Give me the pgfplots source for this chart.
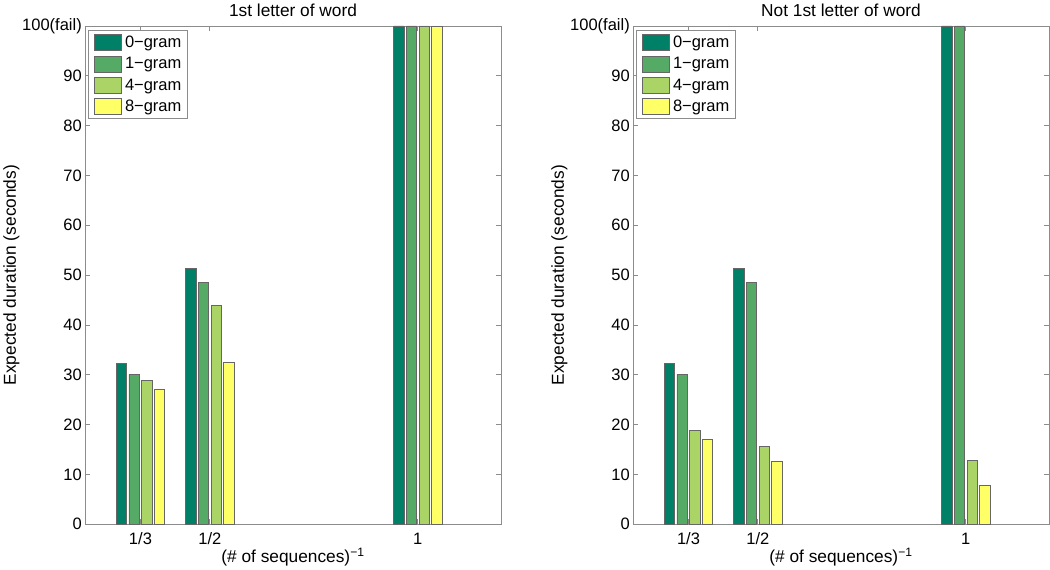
\documentclass[border=0pt]{standalone}
\usepackage{pgfplots}
\usepackage{pgfplotstable}
\pgfplotsset{compat=1.18}
\usepackage{fontspec}
\setmainfont{Liberation Sans}
\definecolor{cA}{RGB}{0,128,102}
\definecolor{cB}{RGB}{85,170,102}
\definecolor{cC}{RGB}{170,213,102}
\definecolor{cD}{RGB}{255,255,102}
\newcommand{\fs}{\fontsize{16.5}{19.8}\selectfont}
\newcommand{\fl}{\fontsize{17.3}{20.8}\selectfont}

\pgfplotstableread{
x a b c d
0.333333 32.3 30.1 28.9 27.0
0.5 51.3 48.6 43.9 32.6
1 100 100 100 100
}\leftdata
\pgfplotstableread{
x a b c d
0.333333 32.3 30.1 18.9 17.1
0.5 51.3 48.6 15.6 12.7
1 100 100 12.8 7.8
}\rightdata

\pgfplotsset{
 mystyle/.style={
  scale only axis, width=416pt, height=498.3pt,
  xmin=0.2, xmax=1.2, ymin=0, ymax=100,
  xtick={0.333333,0.5,1}, xticklabels={1/3,1/2,1},
  ytick={0,10,20,30,40,50,60,70,80,90,100},
  yticklabels={0,10,20,30,40,50,60,70,80,90,100(fail)},
  tick align=inside, tick pos=both, major tick length=5pt,
  axis line style={black!45, line width=0.8pt},
  every tick/.style={black!45, line width=0.8pt},
  tick label style={font=\fs, text=black},
  xticklabel style={anchor=base, yshift=-20.7pt},
  yticklabel style={anchor=east, inner sep=0pt, xshift=-3pt},
  title style={font=\fl, at={(0.5,1)}, anchor=base, yshift=3.7pt},
  xlabel style={font=\fl, at={(axis description cs:0.5,0)}, anchor=base, yshift=-38pt},
  ylabel style={font=\fl, at={(axis description cs:-0.166,0.5)}, anchor=base},
  xlabel={(\# of sequences)\textsuperscript{−1}},
  ylabel={Expected duration (seconds)},
  legend style={at={(0,1)}, anchor=north west, xshift=3.3pt, yshift=-4pt,
    draw=black!45, line width=0.8pt, fill=white, font=\fs,
    inner xsep=5.7pt, inner ysep=4pt, row sep=4.67pt, column sep=3.3pt,
    nodes={inner sep=0pt}},
  legend image code/.code={\draw[#1] (0pt,-8pt) rectangle (26.7pt,8pt);},
  legend cell align=left,
 },
 bars/.style={ybar, bar width=10.3pt, draw=black!60, line width=0.6pt},
}

\begin{document}
\begin{tikzpicture}
\path[use as bounding box] (0,0) rectangle (1050pt,570pt);
\begin{axis}[mystyle, at={(85pt,45.7pt)}, anchor=south west, title={1st letter of word}]
\addplot[bars, fill=cA, bar shift=-19pt] table[x=x,y=a] {\leftdata};
\addplot[bars, fill=cB, bar shift=-6.4pt] table[x=x,y=b] {\leftdata};
\addplot[bars, fill=cC, bar shift=6.4pt] table[x=x,y=c] {\leftdata};
\addplot[bars, fill=cD, bar shift=19pt] table[x=x,y=d] {\leftdata};
\legend{0−gram,1−gram,4−gram,8−gram}
\end{axis}
\begin{axis}[mystyle, at={(633pt,45.7pt)}, anchor=south west, title={Not 1st letter of word}]
\addplot[bars, fill=cA, bar shift=-19pt] table[x=x,y=a] {\rightdata};
\addplot[bars, fill=cB, bar shift=-6.4pt] table[x=x,y=b] {\rightdata};
\addplot[bars, fill=cC, bar shift=6.4pt] table[x=x,y=c] {\rightdata};
\addplot[bars, fill=cD, bar shift=19pt] table[x=x,y=d] {\rightdata};
\legend{0−gram,1−gram,4−gram,8−gram}
\end{axis}
\end{tikzpicture}
\end{document}
